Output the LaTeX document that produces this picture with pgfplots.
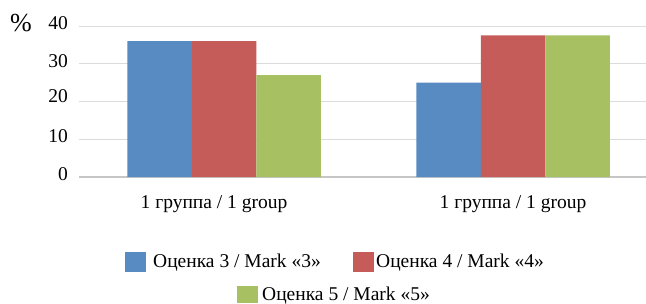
\documentclass[border=0pt]{standalone}
\usepackage{fontspec}
\setmainfont{Liberation Serif}
\usepackage{pgfplots}
\pgfplotsset{compat=1.18}
\definecolor{cblue}{RGB}{88,139,193}
\definecolor{cred}{RGB}{198,92,89}
\definecolor{cgreen}{RGB}{166,192,98}
\newcommand{\fs}{\fontsize{19.5}{23}\selectfont}
\begin{document}
\begin{tikzpicture}[x=1pt,y=1pt]
\begin{axis}[
  at={(79.5pt,126pt)}, anchor=south west,
  scale only axis, width=566.5pt, height=151pt,
  xmin=-0.5, xmax=1.4602, ymin=0, ymax=40,
  ybar=0pt, bar width=64.5pt,
  xtick={0,1}, xticklabels={1 группа / 1 group\hspace*{20pt}, 1 группа / 1 group},
  ytick={0,10,20,30,40},
  yticklabels={0,10,\raisebox{5pt}{20},30,40},
  ymajorgrids, grid style={draw=gray!28, line width=1pt},
  axis x line*=bottom, axis y line*=left,
  y axis line style={draw=none},
  x axis line style={draw=gray!45, line width=2pt, -},
  major tick length=0pt,
  tick label style={font=\fs},
  xticklabel style={anchor=base, yshift=-31pt, inner sep=0pt},
  yticklabel style={anchor=east, inner sep=0pt, xshift=-11.5pt, yshift=3pt},
  /pgf/number format/assume math mode=true,
]
\addplot[fill=cblue, draw=none] coordinates {(0,36) (1,25)};
\addplot[fill=cred, draw=none] coordinates {(0,36) (1,37.5)};
\addplot[fill=cgreen, draw=none] coordinates {(0,27) (1,37.5)};
\end{axis}
\fill[cblue] (125,31) rectangle (146,51);
\node[anchor=base west, inner sep=0, font=\fs] at (153,35) {Оценка 3 / Mark «3»};
\fill[cred] (353,31) rectangle (374,51);
\node[anchor=base west, inner sep=0, font=\fs] at (376,35) {Оценка 4 / Mark «4»};
\fill[cgreen] (237,0) rectangle (258,17);
\node[anchor=base west, inner sep=0, font=\fs] at (262,3) {Оценка 5 / Mark «5»};
\node[inner sep=0, font=\fontsize{26}{30}\selectfont] at (21,280) {\%};
\pgfresetboundingbox
\path (0,0) rectangle (646,303);
\end{tikzpicture}
\end{document}
